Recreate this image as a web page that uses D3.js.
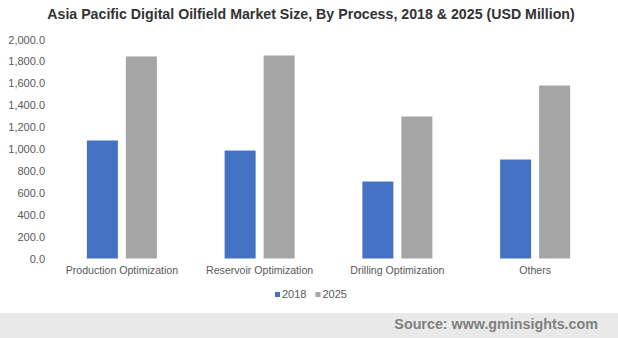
<!DOCTYPE html>
<html>
<head>
<meta charset="utf-8">
<script src="https://cdn.jsdelivr.net/npm/d3@7"></script>
<style>
  body { margin: 0; background: #fff; }
  svg { display: block; font-family: "Liberation Sans", Arial, sans-serif; }
</style>
</head>
<body>
<script>
'use strict';

// chart data
const categories = ["Production Optimization", "Reservoir Optimization", "Drilling Optimization", "Others"];
const series = ["2018", "2025"];
const values2018 = [1078, 986, 703, 904];
const values2025 = [1845, 1854, 1297, 1580];
const yTicks = [0, 200, 400, 600, 800, 1000, 1200, 1400, 1600, 1800, 2000];
const colors = ["#4472c4", "#a5a5a5"];

(function() {
  const width = 618, height = 338;
  const svg = d3.select("body").append("svg")
    .attr("width", width)
    .attr("height", height);

  // title
  svg.append("text")
    .attr("x", 311)
    .attr("y", 19)
    .attr("text-anchor", "middle")
    .style("font-size", "14.2px")
    .style("font-weight", "bold")
    .style("fill", "#333")
    .text("Asia Pacific Digital Oilfield Market Size, By Process, 2018 & 2025 (USD Million)");

  // scales
  let x0 = d3.scaleBand()
    .domain(categories)
    .range([53, 604]);

  let x1 = d3.scaleBand()
    .domain(series)
    .range([x0.bandwidth() / 2 - 35, x0.bandwidth() / 2 + 35])
    .paddingInner(0.205);

  let y = d3.scaleLinear()
    .domain([0, 2000])
    .range([258.5, 39.5]);

  // y axis labels (no line)
  let yAxis = d3.axisLeft(y)
    .tickValues(yTicks)
    .tickSize(0)
    .tickPadding(0)
    .tickFormat(d3.format(",.1f"));
  let gy = svg.append("g")
    .attr("transform", "translate(45,0)")
    .call(yAxis);
  gy.select(".domain").remove();
  gy.selectAll("text")
    .style("font-size", "11px")
    .style("font-family", "Liberation Sans, Arial, sans-serif")
    .style("fill", "#595959");

  // bars
  let rows = categories.map((c, i) => ({ cat: c, vals: [values2018[i], values2025[i]] }));
  let groups = svg.selectAll(".grp")
    .data(rows)
    .enter()
    .append("g")
    .attr("class", "grp")
    .attr("transform", (d) => "translate(" + x0(d.cat) + ",0)");

  groups.selectAll("rect")
    .data((d) => d.vals.map((v, j) => ({ key: series[j], v: v, j: j })))
    .enter()
    .append("rect")
    .attr("x", (d) => x1(d.key))
    .attr("width", x1.bandwidth())
    .attr("y", (d) => y(d.v))
    .attr("height", (d) => y(0) - y(d.v))
    .attr("fill", (d) => colors[d.j]);

  // x axis labels
  let xAxis = d3.axisBottom(x0).tickSize(0).tickPadding(8);
  let gx = svg.append("g")
    .attr("transform", "translate(0," + y(0) + ")")
    .call(xAxis);
  gx.select(".domain").remove();
  gx.selectAll("text")
    .style("font-size", "10.6px")
    .style("font-family", "Liberation Sans, Arial, sans-serif")
    .style("fill", "#595959");

  // legend
  let legend = svg.append("g").attr("transform", "translate(275,298)");
  let lx = 0;
  series.forEach((s, i) => {
    legend.append("rect")
      .attr("x", lx)
      .attr("y", -6)
      .attr("width", 5)
      .attr("height", 5)
      .attr("fill", colors[i]);
    let t = legend.append("text")
      .attr("x", lx + 7)
      .attr("y", 0)
      .style("font-size", "11px")
      .style("fill", "#595959")
      .text(s);
    lx += 7 + t.node().getComputedTextLength() + 9;
  });

  // source footer
  svg.append("rect")
    .attr("x", 0)
    .attr("y", 313)
    .attr("width", width)
    .attr("height", height - 313)
    .attr("fill", "#e9e9e9");

  svg.append("text")
    .attr("x", 598)
    .attr("y", 329)
    .attr("text-anchor", "end")
    .style("font-size", "14.3px")
    .style("font-weight", "bold")
    .style("fill", "#808080")
    .text("Source: www.gminsights.com");
})();
</script>
</body>
</html>
